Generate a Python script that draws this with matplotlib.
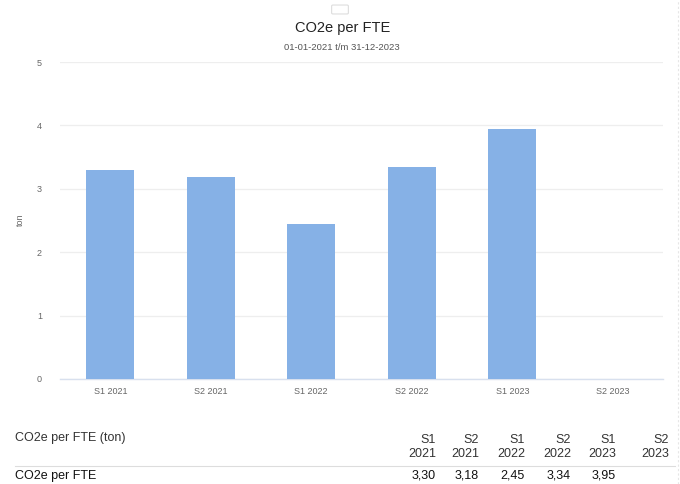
import matplotlib
matplotlib.use("Agg")
import matplotlib.pyplot as plt
from matplotlib.patches import FancyBboxPatch

categories = ["S1 2021", "S2 2021", "S1 2022", "S2 2022", "S1 2023", "S2 2023"]
values = [3.30, 3.18, 2.45, 3.34, 3.95, None]
yticks = [0, 1, 2, 3, 4, 5]
title = "CO2e per FTE"
subtitle = "01-01-2021 t/m 31-12-2023"
ylabel = "ton"
table_header = "CO2e per FTE (ton)"
row_label = "CO2e per FTE"

plt.rcParams['font.family'] = ['Liberation Sans', 'DejaVu Sans']

W, H = 680, 484
fig = plt.figure(figsize=(W / 100, H / 100), dpi=100)
fig.patch.set_facecolor("white")

ax = fig.add_axes([60 / W, 1 - 379 / H, (663 - 60) / W, (379 - 62) / H])
xs = list(range(len(categories)))
bar_x = [x for x, v in zip(xs, values) if v is not None]
bar_v = [v for v in values if v is not None]
ax.bar(bar_x, bar_v, width=0.48, color="#86b1e6", zorder=3)
ax.set_xlim(-0.5, len(categories) - 0.5)
ax.set_ylim(0, 5)
ax.set_yticks(yticks)
ax.set_yticklabels([str(t) for t in yticks], fontsize=6.5, color="#666666")
ax.set_xticks(xs)
ax.set_xticklabels(categories, fontsize=6.5, color="#666666")
ax.tick_params(axis="both", length=0, pad=6)
ax.tick_params(axis="y", pad=13)
ax.grid(axis="y", color="#eeeeee", linewidth=0.9, zorder=0)
for s in ["top", "right", "left"]:
    ax.spines[s].set_visible(False)
ax.spines["bottom"].set_color("#d8e0ee")
ax.spines["bottom"].set_linewidth(1.0)
ax.set_facecolor("white")

fig.text(20 / W, 1 - 220 / H, ylabel, rotation=90, fontsize=6.5, color="#666666",
         ha="center", va="center")

fig.text(343 / W, 1 - 28 / H, title, fontsize=10.5, color="#222222", ha="center", va="center")
fig.text(342 / W, 1 - 47 / H, subtitle, fontsize=6.8, color="#555555", ha="center", va="center")

# small widget box at the top
box = FancyBboxPatch((333 / W, 1 - 13 / H), 14 / W, 7 / H,
                     boxstyle="round,pad=0.002", transform=fig.transFigure,
                     facecolor="white", edgecolor="#dddddd", linewidth=0.8)
fig.patches.append(box)

# faint dashed border on the right
fig.add_artist(plt.Line2D([678 / W, 678 / W], [0, 1], transform=fig.transFigure,
                          color="#e6e6e6", linewidth=0.8, linestyle=(0, (2, 2))))

# table
col_right = [436, 479, 525, 571, 616, 669]
fig.text(15 / W, 1 - 438 / H, table_header, fontsize=9, color="#333333",
         ha="left", va="center")
for cx, cat in zip(col_right, categories):
    fig.text(cx / W, 1 - 447 / H, cat.replace(" ", "\n"), fontsize=9, color="#333333",
             ha="right", va="center", linespacing=1.3)
fig.add_artist(plt.Line2D([15 / W, 675 / W], [1 - 466 / H, 1 - 466 / H],
                          transform=fig.transFigure, color="#dddddd", linewidth=0.8))
fig.text(15 / W, 1 - 476 / H, row_label, fontsize=9, color="#111111",
         ha="left", va="center")
for cx, v in zip(col_right, values):
    if v is not None:
        fig.text(cx / W, 1 - 476 / H, f"{v:.2f}".replace(".", ","), fontsize=9,
                 color="#111111", ha="right", va="center")

fig.savefig("out.png", dpi=100, facecolor="white")
